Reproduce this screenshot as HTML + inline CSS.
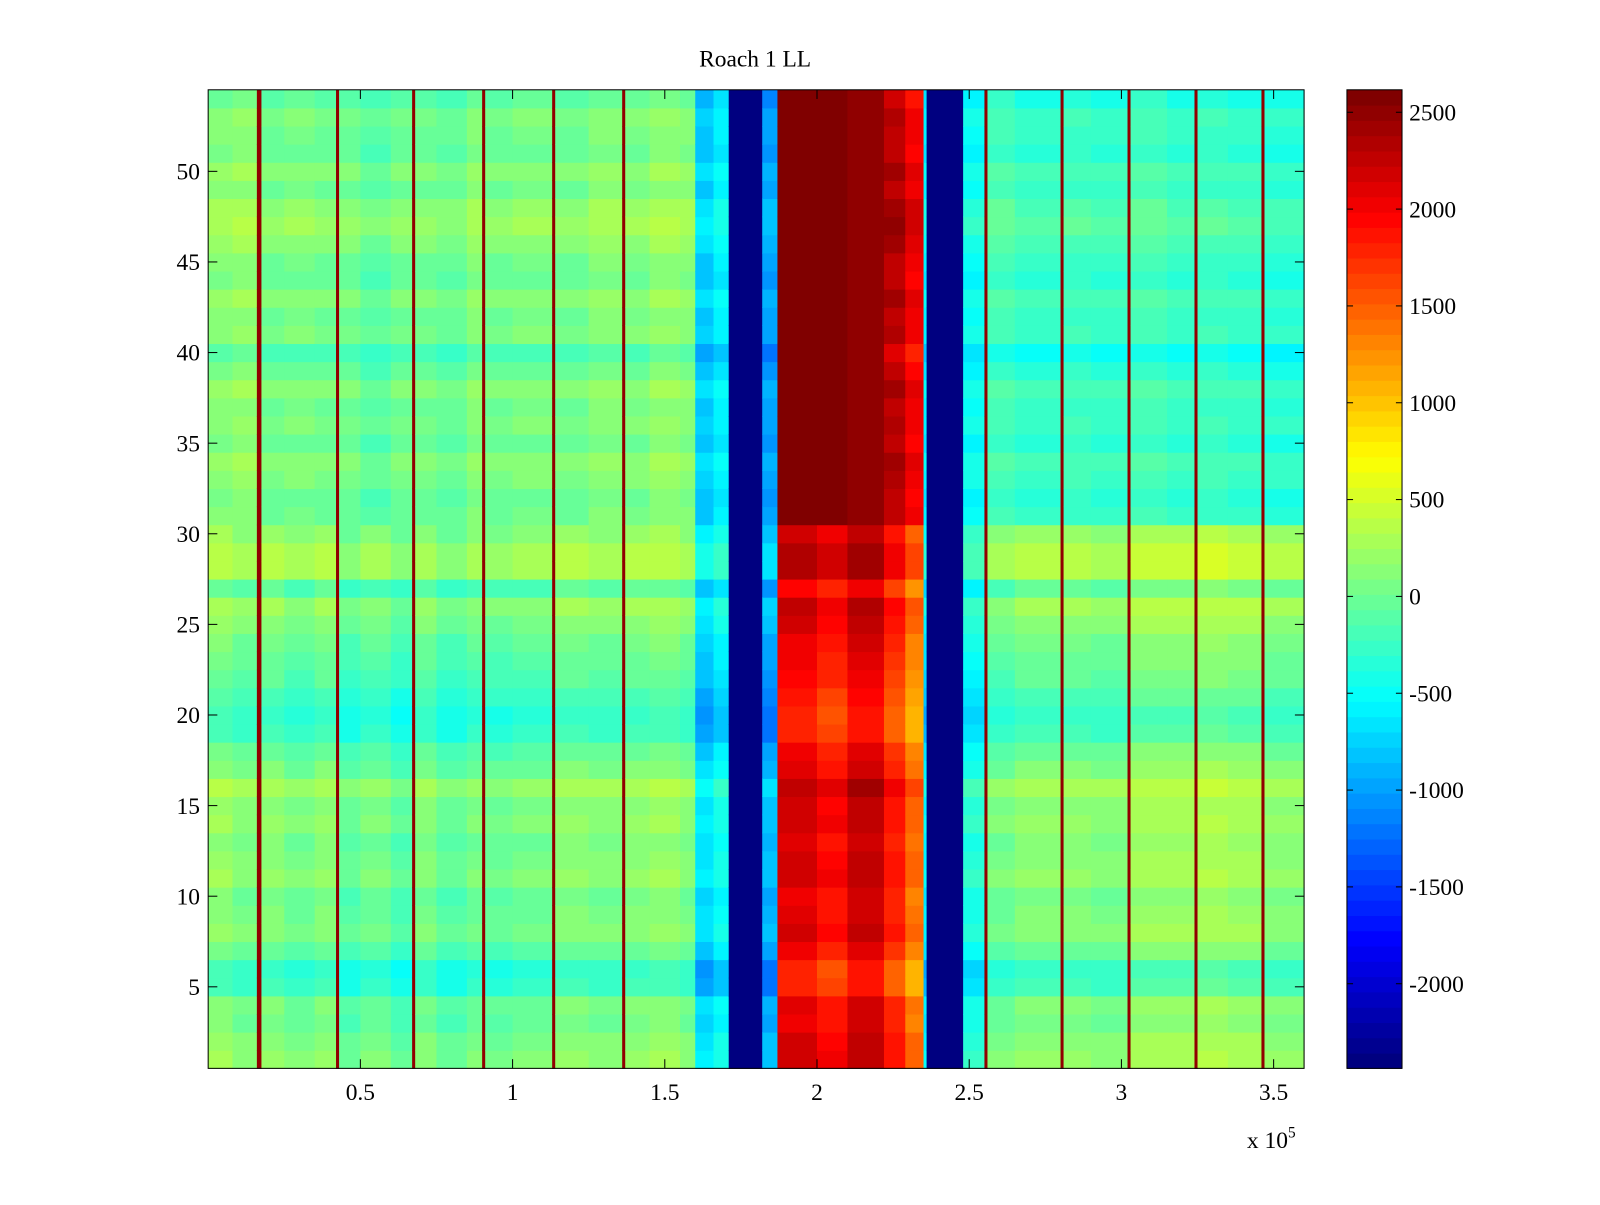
<!DOCTYPE html>
<html><head><meta charset="utf-8"><style>
body{margin:0;background:#fff;}
svg text{font-family:"Liberation Serif",serif;font-size:23px;fill:#000;}
</style></head><body>
<svg id="chart" width="1600" height="1200" xmlns="http://www.w3.org/2000/svg">
<rect width="1600" height="1200" fill="#fff"/>
<g transform="scale(1.0204)">
<text x="740" y="65" text-anchor="middle">Roach 1 LL</text>
<g id="cells"></g>
<g id="cbar"></g>
<g id="axes"></g>
<text x="1222" y="1125">x 10<tspan dy="-10" font-size="15">5</tspan></text>
</g>
</svg>
<script>
const bandEdges=[0,8,16,17.5,25,35,42,43,50,60,67,68,75,85,90,91,100,113,114,125,136,137,145,155,160,166,171,182,187,200,210,222,229,235,236,248,255,256,265,280,281,290,302,303,315,324,325,335,346,347,360];
const lowerValues=[150,50,2500,100,0,100,2500,-100,0,-150,2500,50,-100,0,2500,-50,0,2500,100,50,2500,100,150,50,-700,-500,-2437,-900,2100,1900,2200,1800,1400,-600,-2437,-400,2500,0,100,2500,100,50,2500,200,200,2500,250,200,2500,100];
const upperValues=[100,150,2500,0,50,0,2500,0,-100,0,2500,0,-50,100,2500,0,50,2500,0,100,2500,50,150,100,-800,-600,-2437,-1000,2600,2600,2500,2300,2000,-600,-2437,-500,2500,-200,-300,2500,-250,-300,2500,-200,-300,2500,-250,-300,2500,-350];
const rowOffsets=[100,50,-50,0,-300,-350,-100,50,0,-50,100,50,0,100,50,200,0,-100,-300,-350,-250,-150,-100,-50,50,150,-150,250,250,100,0,-50,50,100,-50,50,0,100,-50,-200,50,0,100,-50,0,100,200,150,0,100,-50,0,50,-100];
const xTicks=[0.5,1,1.5,2,2.5,3,3.5];
const yTicks=[5,10,15,20,25,30,35,40,45,50];
const cbTicks=[2500,2000,1500,1000,500,0,-500,-1000,-1500,-2000];
const CMIN=-2437,CMAX=2616;
const X0=204,X1=1278,Y0=88,Y1=1047;
const xs=v=>X0+(v/360)*(X1-X0);
const ys=r=>Y1-(r-0.5)*(Y1-Y0)/54;
function jet(v){let t=(v-CMIN)/(CMAX-CMIN);t=Math.max(0,Math.min(1,t));t=Math.floor(t*63.999)/63;
 const f=x=>Math.max(0,Math.min(1,x));
 const r=f(1.5-Math.abs(4*t-3)),g=f(1.5-Math.abs(4*t-2)),b=f(1.5-Math.abs(4*t-1));
 return `rgb(${Math.round(r*255)},${Math.round(g*255)},${Math.round(b*255)})`;}
const NS="http://www.w3.org/2000/svg";
function mk(tag,attrs,parent){const e=document.createElementNS(NS,tag);for(const k in attrs)e.setAttribute(k,attrs[k]);parent.appendChild(e);return e;}
const cells=document.getElementById('cells');
for(let i=0;i<lowerValues.length;i++){
 for(let r=1;r<=54;r++){
  let base=r>30?upperValues[i]:lowerValues[i];
  let v=(base>=2500||base<=-2437)?base:base+rowOffsets[r-1];
  const x=xs(bandEdges[i]),w=xs(bandEdges[i+1])-x;
  const el=mk('rect',{x:x,y:ys(r+0.5),width:w+0.5,height:(Y1-Y0)/54+0.5,fill:jet(v)},cells);
  
  
 }
}
const ax=document.getElementById('axes');
mk('rect',{x:X0,y:Y0,width:X1-X0,height:Y1-Y0,fill:'none',stroke:'#000','stroke-width':1},ax);
xTicks.forEach(t=>{const x=xs(t*100);
 mk('line',{x1:x,x2:x,y1:Y1,y2:Y1-9,stroke:'#000'},ax);mk('line',{x1:x,x2:x,y1:Y0,y2:Y0+9,stroke:'#000'},ax);
 const tx=mk('text',{x:x,y:1078,'text-anchor':'middle'},ax);tx.textContent=t;
 
 });
yTicks.forEach(t=>{const y=ys(t);
 mk('line',{x1:X0,x2:X0+9,y1:y,y2:y,stroke:'#000'},ax);mk('line',{x1:X1,x2:X1-9,y1:y,y2:y,stroke:'#000'},ax);
 const tx=mk('text',{x:196,y:y+8,'text-anchor':'end'},ax);tx.textContent=t;
 
 });
const cb=document.getElementById('cbar');
const CX0=1320,CX1=1374;
const cy=v=>Y1-(v-CMIN)/(CMAX-CMIN)*(Y1-Y0);
for(let k=0;k<64;k++){const v0=CMIN+k*(CMAX-CMIN)/64,v1=CMIN+(k+1)*(CMAX-CMIN)/64;
 const el=mk('rect',{x:CX0,y:cy(v1),width:CX1-CX0,height:cy(v0)-cy(v1)+0.5,fill:jet((v0+v1)/2)},cb);
 
 }
mk('rect',{x:CX0,y:Y0,width:CX1-CX0,height:Y1-Y0,fill:'none',stroke:'#000'},cb);
cbTicks.forEach(t=>{const y=cy(t);
 mk('line',{x1:CX0,x2:CX0+6,y1:y,y2:y,stroke:'#000'},cb);mk('line',{x1:CX1,x2:CX1-6,y1:y,y2:y,stroke:'#000'},cb);
 const tx=mk('text',{x:1381,y:y+8},cb);tx.textContent=t;
 
 });
</script>
</body></html>
